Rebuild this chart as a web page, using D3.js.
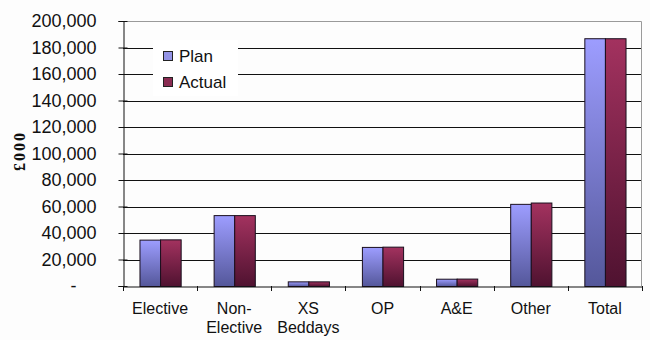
<!DOCTYPE html>
<html>
<head>
<meta charset="utf-8">
<script src="https://cdn.jsdelivr.net/npm/d3@7"></script>
<style>
  html, body { margin: 0; padding: 0; background: #fdfdfd; }
  svg { display: block; }
  text { font-family: "Liberation Sans", Arial, sans-serif; fill: #111; }
</style>
</head>
<body>
<svg id="chart" width="650" height="340"></svg>
<script>
// Plan vs actual spend by activity (£000)
const categories = [["Elective"], ["Non-", "Elective"], ["XS", "Beddays"], ["OP"], ["A&E"], ["Other"], ["Total"]];
const seriesNames = ["Plan", "Actual"];
const planValues   = [35000, 53500, 3500, 29500, 5500, 62000, 187000];
const actualValues = [35200, 53500, 3500, 29700, 5600, 63000, 187000];
const yTicks = [0, 20000, 40000, 60000, 80000, 100000, 120000, 140000, 160000, 180000, 200000];

const svg = d3.select("#chart");
const plot = { left: 123, right: 642, top: 21, bottom: 286 };

const x = d3.scaleBand()
  .domain(categories.map((c, i) => i))
  .range([plot.left, plot.right])
  .paddingInner(0)
  .paddingOuter(0);

const xInner = d3.scaleBand()
  .domain(seriesNames)
  .range([0, x.bandwidth()])
  .paddingOuter(0.8)
  .paddingInner(0);

const y = d3.scaleLinear().domain([0, 200000]).range([plot.bottom, plot.top]);

// vertical gradients: light at the top of each bar, darker towards the base
const defs = svg.append("defs");
const grads = [
  { id: "gPlan", top: "#9d9dff", bottom: "#54579a" },
  { id: "gActual", top: "#a3325f", bottom: "#4f1230" }
];
grads.forEach(g => {
  const lg = defs.append("linearGradient").attr("id", g.id)
    .attr("x1", 0).attr("y1", 0).attr("x2", 0).attr("y2", 1);
  lg.append("stop").attr("offset", "0%").attr("stop-color", g.top);
  lg.append("stop").attr("offset", "100%").attr("stop-color", g.bottom);
});
const fillFor = { Plan: "url(#gPlan)", Actual: "url(#gActual)" };

// plot frame (top and right edges)
svg.append("path")
  .attr("d", `M${plot.left},${plot.top + 0.5}H${plot.right - 0.5}V${plot.bottom}`)
  .attr("fill", "none").attr("stroke", "#9a9a9a").attr("stroke-width", 1);

// horizontal gridlines
svg.append("g").selectAll("line")
  .data(yTicks.filter(t => t > 0 && t < 200000))
  .join("line")
  .attr("x1", plot.left).attr("x2", plot.right - 1)
  .attr("y1", d => Math.round(y(d)) + 0.5).attr("y2", d => Math.round(y(d)) + 0.5)
  .attr("stroke", "#111").attr("stroke-width", 1);

// y axis
const yAxis = d3.axisLeft(y)
  .tickValues(yTicks)
  .tickSize(5)
  .tickPadding(22)
  .tickFormat(d => d === 0 ? "-" : d3.format(",")(d));
const gy = svg.append("g").attr("transform", `translate(${plot.left + 0.5},0)`).call(yAxis);
gy.select(".domain").attr("stroke", "#111");
gy.selectAll(".tick line").attr("stroke", "#111").attr("x2", -5).attr("x1", 4);
gy.selectAll(".tick text")
  .style("font-family", "'Liberation Sans', Arial, sans-serif")
  .style("font-size", "18px").attr("fill", "#222");
gy.selectAll(".tick").filter(d => d === 0).select("text").attr("dx", -20);

// bars
const groups = svg.append("g").selectAll("g")
  .data(categories.map((c, i) => i))
  .join("g")
  .attr("transform", i => `translate(${x(i)},0)`);

groups.selectAll("rect")
  .data(i => [
    { name: "Plan", value: planValues[i] },
    { name: "Actual", value: actualValues[i] }
  ])
  .join("rect")
  .attr("x", d => xInner(d.name) + 0.5)
  .attr("y", d => y(d.value) + 0.5)
  .attr("width", xInner.bandwidth())
  .attr("height", d => y(0) - y(d.value))
  .attr("fill", d => fillFor[d.name])
  .attr("stroke", "#1a0f1e")
  .attr("stroke-width", 1);

// x axis
const xAxis = d3.axisBottom(x).tickSize(0).tickFormat("");
const gx = svg.append("g").attr("transform", `translate(0,${plot.bottom + 0.5})`).call(xAxis);
gx.select(".domain").attr("stroke", "#111");
// tick marks at category boundaries
svg.append("g").selectAll("line")
  .data(d3.range(categories.length + 1))
  .join("line")
  .attr("x1", i => Math.round(plot.left + i * x.bandwidth()) + 0.5)
  .attr("x2", i => Math.round(plot.left + i * x.bandwidth()) + 0.5)
  .attr("y1", plot.bottom).attr("y2", plot.bottom + 5)
  .attr("stroke", "#111");

// category labels
const labels = svg.append("g").selectAll("text")
  .data(categories.map((c, i) => ({ lines: c, i })))
  .join("text")
  .attr("text-anchor", "middle")
  .attr("x", d => x(d.i) + x.bandwidth() / 2)
  .attr("y", 314)
  .style("font-size", "16px")
  .attr("fill", "#222");
labels.selectAll("tspan")
  .data(d => d.lines.map((l, k) => ({ l, k, cx: x(d.i) + x.bandwidth() / 2 })))
  .join("tspan")
  .attr("x", d => d.cx)
  .attr("dy", d => d.k === 0 ? 0 : 19)
  .text(d => d.l);

// y axis title
svg.append("text")
  .attr("transform", "translate(25,151) rotate(-90)")
  .attr("text-anchor", "middle")
  .style("font-family", "'Liberation Serif', 'Times New Roman', serif")
  .style("font-size", "16px")
  .style("font-weight", "bold")
  .style("letter-spacing", "2px")
  .text("£000");

// legend
const legend = svg.append("g").attr("transform", "translate(153,40)");
legend.append("rect")
  .attr("x", 0).attr("y", 0).attr("width", 85).attr("height", 56)
  .attr("fill", "#ffffff");
const items = legend.selectAll("g.item")
  .data(seriesNames)
  .join("g").attr("class", "item")
  .attr("transform", (d, i) => `translate(10,${11 + i * 26})`);
items.append("rect")
  .attr("x", 0.5).attr("y", 0.5).attr("width", 9).attr("height", 9)
  .attr("fill", d => d === "Plan" ? "#9494e6" : "#8a2c52")
  .attr("stroke", "#222");
items.append("text")
  .attr("x", 16).attr("y", 11)
  .style("font-size", "17px")
  .attr("fill", "#111")
  .text(d => d);
</script>
</body>
</html>
